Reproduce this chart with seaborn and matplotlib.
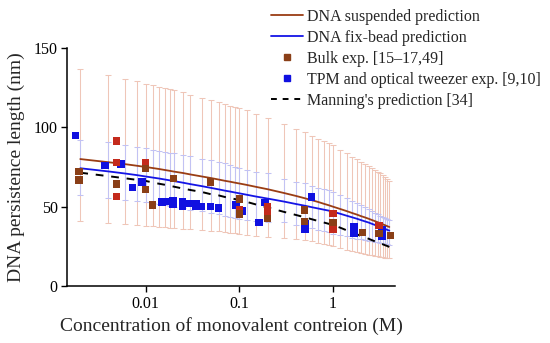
import numpy as np
import pandas as pd
import matplotlib
matplotlib.use("Agg")
import matplotlib.pyplot as plt
from matplotlib.lines import Line2D
import seaborn as sns

# ---- data ----
conc = [0.002, 0.004, 0.006, 0.008, 0.01, 0.012, 0.014, 0.016, 0.018, 0.02,
        0.025, 0.03, 0.04, 0.05, 0.06, 0.07, 0.08, 0.09, 0.1, 0.12, 0.15, 0.2,
        0.3, 0.4, 0.5, 0.6, 0.7, 0.8, 0.9, 1.0, 1.2, 1.4, 1.6, 1.8, 2.0, 2.2,
        2.4, 2.6, 2.8, 3.0, 3.2, 3.4, 3.6, 3.8, 4.0]
suspended = [80, 78, 76.8, 75.8, 75, 74.3, 73.7, 73.1, 72.6, 72.1, 71.2, 70.3,
             69, 68, 67.1, 66.3, 65.7, 65.1, 64.6, 63.7, 62.5, 61, 58.6, 56.8,
             55.3, 54, 52.9, 51.8, 50.9, 50, 48.5, 47.2, 46, 45, 44, 43.2, 42.4,
             41.6, 40.9, 40.2, 39.6, 38.9, 38.3, 37.7, 37.2]
suspended_lo = [41.2, 39.5, 38.9, 38.3, 37.8, 37.5, 37.2, 36.9, 36.6, 36.4, 36,
                35.7, 35.3, 34.9, 34.4, 34, 33.6, 33.2, 32.8, 32.4, 31.8, 31,
                30.5, 29.8, 29, 28.2, 27.4, 26.6, 25.8, 25, 23.8, 22.8, 22,
                21.3, 20.7, 20.2, 19.8, 19.4, 19, 18.7, 18.4, 18.1, 17.8, 17.6,
                17.4]
suspended_hi = [136.6, 132.8, 130.5, 129.3, 127.4, 126.5, 125.3, 124.6, 124.2,
                123.4, 122.1, 120.6, 118.7, 117.5, 115.9, 114.6, 113.4, 112.5,
                111.9, 110.9, 108.4, 105.6, 102, 99.2, 96.9, 94.8, 92.7, 91.2,
                90, 88.7, 85.8, 83.7, 81.5, 80.1, 78.4, 77, 75.6, 74.3, 73.1,
                72, 70.9, 69.8, 68.8, 67.6, 66.4]
fixbead = [74.2, 72.2, 70.9, 69.9, 69, 68.3, 67.7, 67.1, 66.6, 66.1, 65.1,
           64.2, 62.9, 61.8, 60.9, 60.1, 59.5, 58.9, 58.4, 57.5, 56.4, 55.1,
           53.2, 51.7, 50.6, 49.6, 48.8, 48.1, 47.5, 46.8, 45.5, 44.3, 43.3,
           42.4, 41.5, 40.7, 40, 39.2, 38.5, 37.8, 37.2, 36.6, 36, 35.4, 34.9]
fixbead_lo = [57.4, 55.3, 54.2, 53.6, 52.8, 52.2, 51.6, 51, 50.5, 50, 49, 48.2,
              47, 46, 45.2, 44.4, 43.7, 43.1, 42.5, 41.8, 41.2, 40.5, 40.1,
              38.5, 37.4, 36.4, 35.5, 34.6, 33.8, 33, 32, 31.2, 30.5, 29.9,
              29.4, 28.9, 28.5, 28.1, 27.8, 27.5, 27.2, 26.9, 26.6, 26.3, 26]
fixbead_hi = [92, 90.6, 89.1, 87.8, 86.8, 86, 85.3, 84.7, 84.1, 83.6, 82.7, 82,
              80, 79.2, 78.2, 77.3, 76.2, 75.2, 74.2, 73, 71.9, 71, 67.7, 65.8,
              64.7, 63, 62, 61, 60.2, 59.4, 57.3, 55.5, 53.8, 52.2, 50.8, 49.5,
              48.3, 47.2, 46.2, 45.3, 44.4, 43.6, 42.9, 42.2, 41.6]
manning = [71.4, 69.2, 67.9, 66.9, 66.2, 65.2, 64.4, 63.8, 63.2, 62.6, 61.4,
           60.5, 59.2, 57.8, 57.1, 56.1, 55.4, 54.75, 54.2, 53, 51.4, 49.5,
           46.7, 44.8, 43.3, 42, 40.9, 40, 39.2, 38.5, 36.7, 35.1, 33.8, 32.6,
           31.5, 30.6, 29.8, 28.9, 28.2, 27.5, 26.9, 26.3, 25.7, 25.2, 24.6]

bulk_c = [0.00193, 0.00193, 0.00489, 0.00489, 0.00489, 0.00489, 0.0099, 0.0099,
          0.0099, 0.0119, 0.0197, 0.0493, 0.1, 0.1, 0.1, 0.2, 0.2, 0.2, 0.5,
          0.5, 1.0, 1.0, 1.0, 2.06, 3.1, 3.1, 4.13]
bulk_lp = [72.3, 66.8, 91.4, 77.7, 64.3, 56.3, 77.7, 74, 60.7, 51, 67.7, 65.6,
           54.9, 47.9, 45.4, 50, 46.3, 42.7, 47.9, 40.5, 45.8, 39.9, 35.7, 33.9,
           38.2, 33, 31.7]
bulk_shade = ["b", "b", "r", "r", "b", "r", "r", "b", "b", "b", "b", "b",
              "b", "r", "b", "r", "r", "b", "b", "b", "r", "b", "r", "b",
              "r", "b", "b"]

tpm_c = [0.00178, 0.00366, 0.00543, 0.00724, 0.00918, 0.0149, 0.0183, 0.0196,
         0.0196, 0.0248, 0.0248, 0.0294, 0.0344, 0.0344, 0.039, 0.0493, 0.06,
         0.092, 0.108, 0.162, 0.188, 0.506, 0.506, 0.59, 1.69, 1.69, 3.35, 3.35]
tpm_lp = [94.8, 75.9, 76.7, 62, 65.4, 52.8, 53.2, 53.8, 51.4, 53, 50.5, 52.1,
          52, 50, 50, 50, 49, 51, 47.3, 39.9, 52.5, 39.5, 35.5, 55.9, 37.4,
          33.2, 35.5, 31.6]

xticks = [0.01, 0.1, 1]
xticklabels = ["0.01", "0.1", "1"]
yticks = [0, 50, 100, 150]

legend_labels = ["DNA suspended prediction", "DNA fix-bead prediction",
                 "Bulk exp. [15\u201317,49]", "TPM and optical tweezer exp. [9,10]",
                 "Manning's prediction [34]"]

# ---- styling ----
sns.set_style("ticks")
plt.rcParams["font.family"] = ["Liberation Serif", "DejaVu Serif"]

C_SUSP = "#9a3d14"
C_FIX = "#1414e6"
C_SUSP_ERR = "#efc6b8"
C_FIX_ERR = "#c2c2f3"
C_BULK = {"b": "#8a3f17", "r": "#c42a1c"}
C_TPM = "#1010e0"

fig = plt.figure(figsize=(5.5, 3.43), dpi=100)
ax = fig.add_axes([0.1227, 0.1662, 0.5955, 0.6939])

pred = pd.DataFrame({"c": conc, "susp": suspended, "susp_lo": suspended_lo,
                     "susp_hi": suspended_hi, "fix": fixbead, "fix_lo": fixbead_lo,
                     "fix_hi": fixbead_hi, "manning": manning})

# error bars
ax.errorbar(pred["c"], pred["susp"],
            yerr=[pred["susp"] - pred["susp_lo"], pred["susp_hi"] - pred["susp"]],
            fmt="none", ecolor=C_SUSP_ERR, elinewidth=0.75, capsize=2.0,
            capthick=0.75, zorder=1)
ax.errorbar(pred["c"], pred["fix"],
            yerr=[pred["fix"] - pred["fix_lo"], pred["fix_hi"] - pred["fix"]],
            fmt="none", ecolor=C_FIX_ERR, elinewidth=0.75, capsize=2.0,
            capthick=0.75, zorder=1.5)

sns.lineplot(data=pred, x="c", y="susp", color=C_SUSP, lw=1.3, ax=ax, zorder=3)
sns.lineplot(data=pred, x="c", y="fix", color=C_FIX, lw=1.3, ax=ax, zorder=3)
sns.lineplot(data=pred, x="c", y="manning", color="black", lw=1.4, ax=ax,
             zorder=3, dashes=False, linestyle=(0, (4, 4)))

bulk = pd.DataFrame({"c": bulk_c, "lp": bulk_lp, "shade": bulk_shade})
tpm = pd.DataFrame({"c": tpm_c, "lp": tpm_lp})
sns.scatterplot(data=tpm, x="c", y="lp", marker="s", s=30, color=C_TPM,
                edgecolor="none", ax=ax, zorder=4, legend=False)
sns.scatterplot(data=bulk, x="c", y="lp", hue="shade", palette=C_BULK,
                marker="s", s=28, edgecolor="none", ax=ax, zorder=5, legend=False)

ax.set_xscale("log")
ax.set_xlim(0.00146, 4.6)
ax.set_ylim(0, 150)
ax.set_xticks(xticks)
ax.set_xticklabels(xticklabels)
ax.xaxis.set_minor_locator(matplotlib.ticker.NullLocator())
ax.set_yticks(yticks)
ax.tick_params(axis="both", labelsize=11.5, length=4, width=1, direction="out",
               colors="black", pad=3)
for s in ["top", "right"]:
    ax.spines[s].set_visible(False)
for s in ["left", "bottom"]:
    ax.spines[s].set_linewidth(1.1)
    ax.spines[s].set_color("black")

ax.set_xlabel("Concentration of monovalent contreion (M)", fontsize=14, labelpad=4)
ax.set_ylabel("DNA persistence length (nm)", fontsize=14, labelpad=6)

handles = [
    Line2D([], [], color=C_SUSP, lw=1.3),
    Line2D([], [], color=C_FIX, lw=1.3),
    Line2D([], [], color=C_BULK["b"], marker="s", ls="none", markersize=4.5),
    Line2D([], [], color=C_TPM, marker="s", ls="none", markersize=4.5),
    Line2D([], [], color="black", lw=1.4, ls=(0, (3, 3))),
]
fig.legend(handles, legend_labels, loc="upper left",
           bbox_to_anchor=(0.4927, 0.975), frameon=False, fontsize=11.5,
           handlelength=2.0, handletextpad=0.25, labelspacing=0.32,
           borderpad=0, borderaxespad=0)

fig.savefig("out.png", dpi=100)
